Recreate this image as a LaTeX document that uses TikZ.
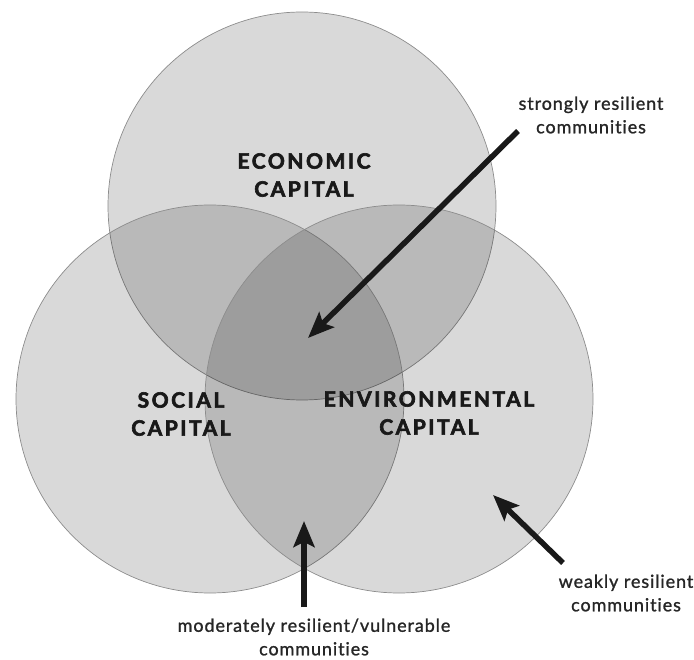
\documentclass[tikz,border=0pt]{standalone}
\usepackage{fontspec}
\setmainfont{Lato}[Ligatures={NoCommon,NoRare}]
\usetikzlibrary{arrows.meta}
\tikzset{
  venn/.style={circle, minimum size=388pt, inner sep=0pt, fill=black, fill opacity=0.15, draw=black!45, draw opacity=1, line width=0.7pt},
  caplabel/.style={font=\fontsize{21}{28}\selectfont\bfseries\addfontfeatures{LetterSpace=12,FakeBold=3}, align=center, text=black!90, inner sep=0pt},
  note/.style={font=\fontsize{18}{23.5}\selectfont\addfontfeatures{LetterSpace=5,FakeBold=1.2}, align=center, text=black!85, inner sep=0pt},
  bigarrow/.style={line width=5.5pt, black!90, -{Stealth[length=26pt,width=21pt,inset=5pt]}}
}
\begin{document}
\begin{tikzpicture}[x=1pt,y=-1pt]
\useasboundingbox (0,0) rectangle (694,660);
\node[venn] (eco) at (302,206) {};
\node[venn] (soc) at (210,399) {};
\node[venn] (env) at (399,399) {};

\node[caplabel] (ecol) at (304,175) {ECONOMIC\\CAPITAL};
\node[caplabel] (socl) at (181,414) {SOCIAL\\CAPITAL};
\node[caplabel] (envl) at (429,413) {ENVIRONMENTAL\\CAPITAL};

\node[note] (strong) at (591,115) {strongly resilient\\communities};
\node[note] (weak) at (626,593) {weakly resilient\\communities};
\node[note] (moder) at (314,637) {moderately resilient/vulnerable\\communities};

\coordinate (s1) at (518,131);
\coordinate (s2) at (308,338);
\coordinate (m1) at (304,607);
\coordinate (m2) at (304,521);
\coordinate (w1) at (563,563);
\coordinate (w2) at (493,495);

\draw[bigarrow] (s1) -- (s2);
\draw[bigarrow] (m1) -- (m2);
\draw[bigarrow] (w1) -- (w2);
\end{tikzpicture}
\end{document}
